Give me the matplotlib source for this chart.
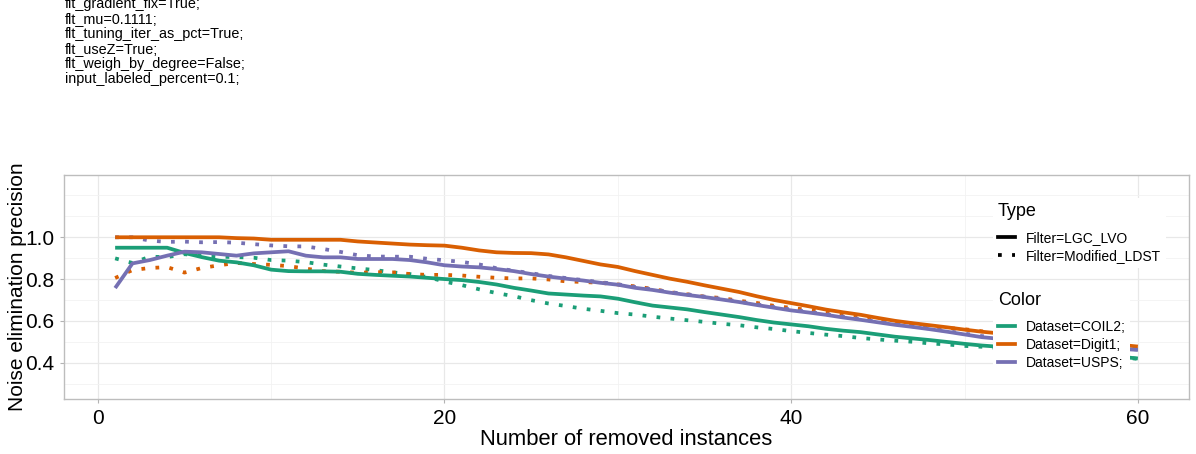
import numpy as np
import matplotlib.pyplot as plt
from matplotlib.lines import Line2D

plt.rcParams['font.family'] = ['Liberation Sans', 'DejaVu Sans']

# Data
x = np.arange(1, 61)

coil2_lgc = [0.950, 0.950, 0.950, 0.950, 0.925, 0.905, 0.888, 0.880, 0.866, 0.845,
             0.838, 0.837, 0.837, 0.835, 0.825, 0.820, 0.816, 0.812, 0.806, 0.800,
             0.795, 0.786, 0.774, 0.758, 0.745, 0.731, 0.726, 0.721, 0.717, 0.706,
             0.689, 0.673, 0.664, 0.655, 0.642, 0.630, 0.618, 0.604, 0.592, 0.583,
             0.574, 0.562, 0.553, 0.546, 0.535, 0.524, 0.516, 0.508, 0.499, 0.490,
             0.482, 0.476, 0.470, 0.463, 0.457, 0.450, 0.443, 0.436, 0.428, 0.420]
digit1_lgc = [1.000, 1.000, 1.000, 1.000, 1.000, 1.000, 1.000, 0.996, 0.994, 0.988,
              0.988, 0.988, 0.988, 0.988, 0.980, 0.975, 0.970, 0.965, 0.962, 0.960,
              0.950, 0.937, 0.928, 0.925, 0.924, 0.918, 0.904, 0.887, 0.870, 0.858,
              0.838, 0.820, 0.802, 0.787, 0.770, 0.754, 0.738, 0.718, 0.700, 0.685,
              0.670, 0.654, 0.641, 0.629, 0.614, 0.600, 0.589, 0.579, 0.569, 0.558,
              0.548, 0.540, 0.532, 0.524, 0.516, 0.508, 0.500, 0.492, 0.485, 0.477]
usps_lgc = [0.757, 0.875, 0.891, 0.912, 0.931, 0.928, 0.920, 0.912, 0.923, 0.928,
            0.933, 0.912, 0.904, 0.904, 0.896, 0.896, 0.896, 0.891, 0.880, 0.866,
            0.860, 0.856, 0.848, 0.838, 0.824, 0.812, 0.802, 0.793, 0.782, 0.773,
            0.758, 0.748, 0.735, 0.724, 0.714, 0.702, 0.690, 0.676, 0.663, 0.650,
            0.640, 0.629, 0.616, 0.605, 0.593, 0.581, 0.571, 0.560, 0.548, 0.535,
            0.522, 0.514, 0.507, 0.499, 0.492, 0.485, 0.478, 0.472, 0.466, 0.461]

coil2_ldst = [0.899, 0.877, 0.907, 0.905, 0.919, 0.911, 0.907, 0.905, 0.902, 0.891,
              0.888, 0.881, 0.869, 0.860, 0.851, 0.843, 0.832, 0.824, 0.810, 0.788,
              0.771, 0.751, 0.733, 0.718, 0.699, 0.683, 0.671, 0.658, 0.648, 0.637,
              0.630, 0.620, 0.611, 0.603, 0.595, 0.586, 0.579, 0.569, 0.561, 0.551,
              0.542, 0.534, 0.527, 0.518, 0.511, 0.505, 0.500, 0.492, 0.487, 0.480,
              0.476, 0.470, 0.464, 0.458, 0.452, 0.446, 0.440, 0.433, 0.426, 0.418]
digit1_ldst = [0.805, 0.843, 0.853, 0.857, 0.831, 0.853, 0.866, 0.877, 0.872, 0.868,
               0.862, 0.850, 0.838, 0.835, 0.830, 0.833, 0.832, 0.824, 0.820, 0.820,
               0.817, 0.811, 0.806, 0.803, 0.803, 0.798, 0.789, 0.786, 0.782, 0.774,
               0.765, 0.753, 0.737, 0.727, 0.716, 0.709, 0.696, 0.686, 0.672, 0.662,
               0.652, 0.642, 0.632, 0.623, 0.608, 0.596, 0.586, 0.575, 0.566, 0.560,
               0.550, 0.542, 0.533, 0.524, 0.515, 0.505, 0.495, 0.485, 0.476, 0.468]
usps_ldst = [1.000, 1.000, 0.984, 0.978, 0.979, 0.976, 0.977, 0.974, 0.967, 0.961,
             0.957, 0.956, 0.944, 0.930, 0.914, 0.908, 0.907, 0.907, 0.897, 0.890,
             0.882, 0.870, 0.852, 0.840, 0.828, 0.815, 0.805, 0.795, 0.785, 0.775,
             0.762, 0.751, 0.738, 0.727, 0.716, 0.705, 0.692, 0.679, 0.666, 0.654,
             0.643, 0.632, 0.620, 0.608, 0.596, 0.585, 0.574, 0.563, 0.551, 0.539,
             0.527, 0.519, 0.511, 0.503, 0.496, 0.489, 0.482, 0.475, 0.469, 0.463]

datasets = ['Dataset=COIL2;', 'Dataset=Digit1;', 'Dataset=USPS;']
filters = ['Filter=LGC_LVO', 'Filter=Modified_LDST']
colors = ['#1B9E77', '#D95F02', '#7570B3']

header = ['flt_gradient_fix=True;', 'flt_mu=0.1111;', 'flt_tuning_iter_as_pct=True;',
          'flt_useZ=True;', 'flt_weigh_by_degree=False;', 'input_labeled_percent=0.1;']

W, H = 1196, 454
fig = plt.figure(figsize=(W / 100, H / 100), dpi=100)
ax = fig.add_axes([64 / W, 1 - 399 / H, (1189 - 64) / W, (399 - 175) / H])

dotted = (0, (1, 2.75))
lw = 2.7
for ys, c in zip([coil2_ldst, digit1_ldst, usps_ldst], colors):
    ax.plot(x, ys, color=c, lw=lw, linestyle=dotted, dash_capstyle='butt')
for ys, c in zip([coil2_lgc, digit1_lgc, usps_lgc], colors):
    ax.plot(x, ys, color=c, lw=lw, solid_capstyle='butt')

ax.set_xlim(-1.95, 62.95)
ax.set_ylim(0.226, 1.298)
ax.set_xticks([0, 20, 40, 60])
ax.set_xticks([10, 30, 50], minor=True)
ax.set_yticks([0.4, 0.6, 0.8, 1.0])
ax.set_yticks([0.3, 0.5, 0.7, 0.9, 1.1, 1.2], minor=True)
ax.set_yticklabels(['0.4', '0.6', '0.8', '1.0'])
ax.grid(which='major', color='#e8e8e8', lw=0.9)
ax.grid(which='minor', color='#f2f2f2', lw=0.6)
ax.set_axisbelow(True)
ax.tick_params(which='major', length=3, width=0.8, color='#b3b3b3',
               labelsize=15, labelcolor='black', pad=4)
ax.tick_params(which='minor', length=0)
for s in ax.spines.values():
    s.set_color('#bdbdbd')
    s.set_linewidth(1.0)

ax.set_xlabel('Number of removed instances', fontsize=15.8, labelpad=1)
ax.set_ylabel('Noise elimination precision', fontsize=15, labelpad=-1)

# legends
legend_kw = dict(loc='upper left', bbox_transform=fig.transFigure,
                 fontsize=10, title_fontsize=13, frameon=True, fancybox=False,
                 edgecolor='none', facecolor='white', framealpha=1,
                 handlelength=1.2, handletextpad=0.8, labelspacing=0.3,
                 borderpad=0.35, borderaxespad=0, alignment='left')
type_handles = [Line2D([], [], color='black', lw=lw),
                Line2D([], [], color='black', lw=lw, linestyle=dotted, dash_capstyle='butt')]
leg1 = ax.legend(type_handles, filters, title='Type',
                 bbox_to_anchor=(993 / W, 1 - 198 / H), **legend_kw)
leg1._legend_box.sep = 8
ax.add_artist(leg1)
color_handles = [Line2D([], [], color=c, lw=lw) for c in colors]
leg2 = ax.legend(color_handles, datasets, title='Color',
                 bbox_to_anchor=(993 / W, 1 - 287 / H), **legend_kw)
leg2._legend_box.sep = 8

for i, line in enumerate(header):
    fig.text(65 / W, 1 - (8 + 15 * i) / H, line, fontsize=10.4, va='baseline', ha='left')

fig.savefig('out.png', dpi=100)
